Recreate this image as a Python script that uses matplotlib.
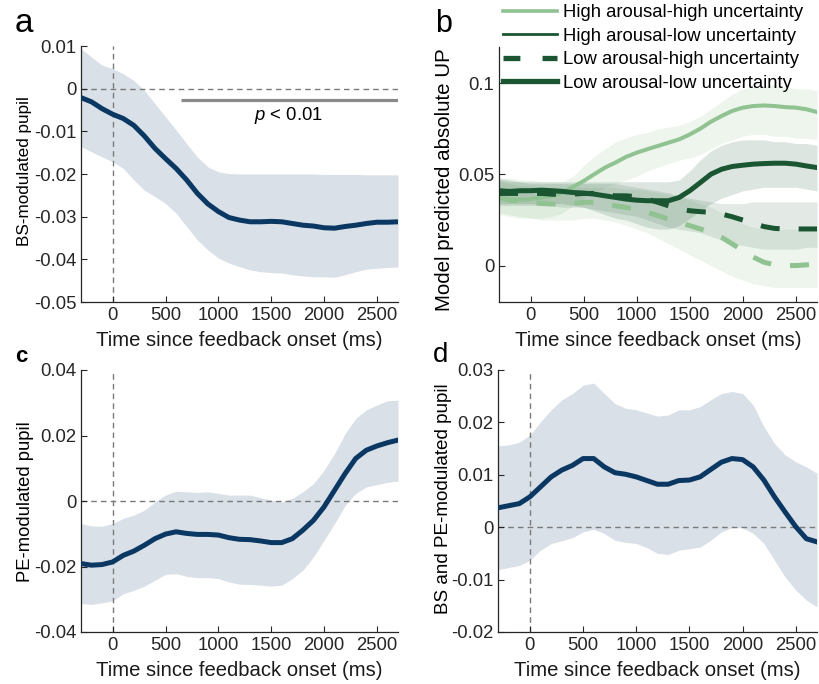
import numpy as np
import matplotlib
matplotlib.use("Agg")
import matplotlib.pyplot as plt
from matplotlib.lines import Line2D

plt.rcParams['font.family'] = ['Liberation Sans', 'DejaVu Sans']
plt.rcParams['mathtext.fontset'] = 'custom'
plt.rcParams['mathtext.it'] = 'Liberation Sans:italic'
plt.rcParams['mathtext.rm'] = 'Liberation Sans'

t = [-300, -200, -100, 0, 100, 200, 300, 400, 500, 600, 700, 800, 900, 1000, 1100, 1200,
     1300, 1400, 1500, 1600, 1700, 1800, 1900, 2000, 2100, 2200, 2300, 2400, 2500, 2600, 2700]

# panel a: BS-modulated pupil
bs_mean = [-0.0021, -0.0031, -0.0047, -0.0060, -0.0070, -0.0086, -0.0111, -0.0140, -0.0164, -0.0187,
           -0.0214, -0.0245, -0.0270, -0.0288, -0.0302, -0.0308, -0.0312, -0.0312, -0.0311, -0.0312,
           -0.0316, -0.0320, -0.0322, -0.0326, -0.0327, -0.0323, -0.0320, -0.0316, -0.0313, -0.0313, -0.0312]
bs_upper = [0.0094, 0.0074, 0.0055, 0.0047, 0.0035, 0.0019, -0.0004, -0.0035, -0.0066, -0.0097,
            -0.0129, -0.0160, -0.0183, -0.0195, -0.0199, -0.0200, -0.0200, -0.0200, -0.0200, -0.0200,
            -0.0200, -0.0200, -0.0200, -0.0201, -0.0201, -0.0201, -0.0201, -0.0202, -0.0202, -0.0202, -0.0202]
bs_lower = [-0.0136, -0.0148, -0.0160, -0.0171, -0.0187, -0.0214, -0.0238, -0.0253, -0.0269, -0.0292,
            -0.0323, -0.0354, -0.0378, -0.0397, -0.0409, -0.0417, -0.0425, -0.0429, -0.0431, -0.0432,
            -0.0436, -0.0439, -0.0441, -0.0441, -0.0442, -0.0436, -0.0429, -0.0423, -0.0421, -0.0419, -0.0418]
sig_start, sig_end, sig_y = 650, 2700, -0.0027

# panel b: model predicted absolute UP
hh_mean = [0.0374, 0.0365, 0.0361, 0.0365, 0.0374, 0.0383, 0.0401, 0.0432, 0.0465, 0.0502, 0.0538,
           0.0566, 0.0597, 0.0620, 0.0639, 0.0657, 0.0675, 0.0693, 0.0720, 0.0752, 0.0790, 0.0821,
           0.0849, 0.0867, 0.0876, 0.0879, 0.0876, 0.0870, 0.0867, 0.0858, 0.0843]
hh_upper = [0.048, 0.048, 0.047, 0.047, 0.046, 0.046, 0.046, 0.049, 0.055, 0.060, 0.064, 0.068, 0.070,
            0.072, 0.073, 0.075, 0.076, 0.077, 0.079, 0.082, 0.086, 0.090, 0.094, 0.097, 0.098, 0.099,
            0.099, 0.098, 0.097, 0.097, 0.096]
hh_lower = [0.028, 0.027, 0.026, 0.026, 0.026, 0.027, 0.029, 0.033, 0.037, 0.040, 0.043, 0.045, 0.047,
            0.049, 0.052, 0.054, 0.056, 0.058, 0.059, 0.061, 0.064, 0.067, 0.069, 0.071, 0.072, 0.072,
            0.071, 0.071, 0.070, 0.070, 0.069]
hl_mean = [0.0411, 0.0407, 0.0411, 0.0411, 0.0414, 0.0411, 0.0407, 0.0401, 0.0398, 0.0392, 0.0383,
           0.0374, 0.0365, 0.0359, 0.0356, 0.0356, 0.0356, 0.0374, 0.0411, 0.0456, 0.0502, 0.0529,
           0.0544, 0.0551, 0.0557, 0.0560, 0.0562, 0.0562, 0.0557, 0.0547, 0.0538]
hl_upper = [0.048, 0.047, 0.046, 0.046, 0.046, 0.046, 0.046, 0.046, 0.046, 0.046, 0.046, 0.046, 0.046,
            0.046, 0.046, 0.046, 0.046, 0.047, 0.052, 0.058, 0.063, 0.066, 0.068, 0.069, 0.069, 0.069,
            0.068, 0.068, 0.067, 0.067, 0.066]
hl_lower = [0.034, 0.034, 0.034, 0.034, 0.034, 0.034, 0.034, 0.033, 0.032, 0.030, 0.028, 0.026, 0.025,
            0.023, 0.021, 0.020, 0.020, 0.022, 0.026, 0.030, 0.034, 0.037, 0.039, 0.041, 0.042, 0.043,
            0.043, 0.043, 0.043, 0.042, 0.041]
lh_mean = [0.0374, 0.0359, 0.0356, 0.0347, 0.0341, 0.0338, 0.0338, 0.0341, 0.0347, 0.0347, 0.0338,
           0.0328, 0.0319, 0.0310, 0.0292, 0.0274, 0.0255, 0.0237, 0.0219, 0.0201, 0.0182, 0.0155,
           0.0119, 0.0082, 0.0046, 0.0018, 0.0005, 0.0000, 0.0000, 0.0004, 0.0009]
lh_upper = [0.046, 0.045, 0.044, 0.044, 0.043, 0.043, 0.043, 0.043, 0.043, 0.043, 0.043, 0.043, 0.042,
            0.042, 0.041, 0.040, 0.039, 0.038, 0.036, 0.034, 0.032, 0.029, 0.026, 0.023, 0.021, 0.020,
            0.020, 0.020, 0.020, 0.021, 0.022]
lh_lower = [0.029, 0.028, 0.027, 0.026, 0.025, 0.025, 0.025, 0.025, 0.026, 0.026, 0.025, 0.024, 0.022,
            0.020, 0.018, 0.015, 0.012, 0.009, 0.006, 0.003, 0.000, -0.003, -0.006, -0.008, -0.010,
            -0.011, -0.012, -0.012, -0.012, -0.012, -0.012]
ll_mean = [0.0396, 0.0396, 0.0396, 0.0396, 0.0396, 0.0392, 0.0389, 0.0392, 0.0396, 0.0396, 0.0389,
           0.0383, 0.0383, 0.0378, 0.0365, 0.0347, 0.0328, 0.0310, 0.0301, 0.0296, 0.0292, 0.0283,
           0.0268, 0.0250, 0.0232, 0.0214, 0.0204, 0.0201, 0.0201, 0.0201, 0.0201]
ll_upper = [0.047, 0.046, 0.046, 0.045, 0.045, 0.045, 0.045, 0.045, 0.045, 0.045, 0.045, 0.045, 0.044,
            0.043, 0.042, 0.041, 0.040, 0.038, 0.037, 0.036, 0.035, 0.034, 0.034, 0.034, 0.035, 0.035,
            0.035, 0.035, 0.035, 0.035, 0.035]
ll_lower = [0.033, 0.033, 0.033, 0.033, 0.033, 0.033, 0.032, 0.032, 0.032, 0.031, 0.030, 0.029, 0.028,
            0.027, 0.025, 0.023, 0.021, 0.020, 0.019, 0.018, 0.016, 0.014, 0.012, 0.011, 0.010, 0.009,
            0.009, 0.009, 0.009, 0.010, 0.010]
legend_labels = ['High arousal-high uncertainty', 'High arousal-low uncertainty',
                 'Low arousal-high uncertainty', 'Low arousal-low uncertainty']

# panel c: PE-modulated pupil
pe_mean = [-0.0191, -0.0196, -0.0194, -0.0186, -0.0166, -0.0153, -0.0135, -0.0115, -0.0101, -0.0094,
           -0.0099, -0.0102, -0.0102, -0.0104, -0.0112, -0.0117, -0.0118, -0.0122, -0.0127, -0.0127,
           -0.0115, -0.0089, -0.0059, -0.0018, 0.0033, 0.0084, 0.0130, 0.0155, 0.0168, 0.0178, 0.0186]
pe_upper = [-0.0069, -0.0076, -0.0077, -0.0069, -0.0053, -0.0043, -0.0028, -0.0003, 0.0018, 0.0030,
            0.0028, 0.0026, 0.0028, 0.0023, 0.0018, 0.0018, 0.0018, 0.0010, 0.0003, -0.0003, 0.0008,
            0.0028, 0.0053, 0.0094, 0.0145, 0.0206, 0.0252, 0.0278, 0.0293, 0.0306, 0.0308]
pe_lower = [-0.0313, -0.0316, -0.0311, -0.0305, -0.0283, -0.0273, -0.0260, -0.0242, -0.0224, -0.0222,
            -0.0230, -0.0234, -0.0234, -0.0237, -0.0247, -0.0254, -0.0255, -0.0257, -0.0260, -0.0257,
            -0.0237, -0.0211, -0.0171, -0.0120, -0.0069, -0.0013, 0.0023, 0.0043, 0.0050, 0.0057, 0.0061]

# panel d: BS and PE-modulated pupil
bspe_mean = [0.0037, 0.0041, 0.0045, 0.0058, 0.0077, 0.0096, 0.0109, 0.0118, 0.0131, 0.0131, 0.0115,
             0.0104, 0.0101, 0.0096, 0.0089, 0.0082, 0.0082, 0.0089, 0.0090, 0.0096, 0.0110, 0.0124,
             0.0131, 0.0129, 0.0115, 0.0090, 0.0058, 0.0029, 0.0001, -0.0022, -0.0028]
bspe_upper = [0.0155, 0.0157, 0.0162, 0.0176, 0.0201, 0.0224, 0.0243, 0.0255, 0.0271, 0.0275, 0.0255,
              0.0236, 0.0227, 0.0224, 0.0218, 0.0212, 0.0214, 0.0224, 0.0224, 0.0230, 0.0243, 0.0255,
              0.0259, 0.0255, 0.0233, 0.0192, 0.0160, 0.0138, 0.0125, 0.0115, 0.0103]
bspe_lower = [-0.0081, -0.0077, -0.0073, -0.0063, -0.0044, -0.0031, -0.0026, -0.0020, -0.0009, -0.0004,
              -0.0012, -0.0025, -0.0029, -0.0031, -0.0039, -0.0050, -0.0052, -0.0044, -0.0041, -0.0038,
              -0.0025, -0.0009, -0.0001, -0.0001, -0.0012, -0.0031, -0.0063, -0.0095, -0.0120, -0.0139, -0.0152]

navy = '#0b3862'
band = '#d9e0e7'
light_g = '#90c391'
dark_g = '#1a5631'
ref_grey = '#7a7a7a'

fig = plt.figure(figsize=(8.19, 6.84), dpi=100)
W, H = 819, 684


def make_ax(l, r, top, bottom):
    return fig.add_axes([l / W, 1 - bottom / H, (r - l) / W, (bottom - top) / H])


def style(ax, ylim, yticks, yticklabels):
    ax.set_xlim(-300, 2700)
    ax.set_ylim(*ylim)
    ax.set_xticks([0, 500, 1000, 1500, 2000, 2500])
    ax.set_yticks(yticks)
    ax.set_yticklabels(yticklabels)
    for s in ['top', 'right']:
        ax.spines[s].set_visible(False)
    for s in ['left', 'bottom']:
        ax.spines[s].set_color('#262626')
        ax.spines[s].set_linewidth(0.9)
    ax.tick_params(direction='in', length=4, width=0.8, colors='#262626', labelsize=13.3)
    ax.set_xlabel('Time since feedback onset (ms)', fontsize=14.6, color='#1a1a1a')
    ax.xaxis.set_label_coords(0.5, -0.112)


def refs(ax, hline=True, vline=True):
    if hline:
        ax.axhline(0, color=ref_grey, lw=1, ls=(0, (4, 3)), zorder=1)
    if vline:
        ax.axvline(0, color=ref_grey, lw=1, ls=(0, (4, 3)), zorder=1)


# a
axa = make_ax(81, 398, 46, 302)
axa.fill_between(t, bs_lower, bs_upper, color=band, lw=0, zorder=0)
refs(axa)
axa.plot(t, bs_mean, color=navy, lw=3.6, solid_capstyle='butt', zorder=3)
axa.plot([sig_start, sig_end], [sig_y, sig_y], color='#8a8a8a', lw=2.3, solid_capstyle='butt')
axa.text(1660, -0.0063, r'$\it{p}$ < 0.01', fontsize=13.3, ha='center', va='center')
style(axa, (-0.05, 0.01), [-0.05, -0.04, -0.03, -0.02, -0.01, 0, 0.01],
      ['-0.05', '-0.04', '-0.03', '-0.02', '-0.01', '0', '0.01'])
axa.set_ylabel('BS-modulated pupil', fontsize=12.3)
axa.yaxis.set_label_coords(-0.155, 0.51)

# b
axb = make_ax(499, 817, 47, 302)
axb.fill_between(t, hh_lower, hh_upper, color=light_g, alpha=0.16, lw=0)
axb.fill_between(t, lh_lower, lh_upper, color=light_g, alpha=0.16, lw=0)
axb.fill_between(t, ll_lower, ll_upper, color=dark_g, alpha=0.12, lw=0)
axb.fill_between(t, hl_lower, hl_upper, color=dark_g, alpha=0.15, lw=0)
axb.plot(t, hh_mean, color=light_g, lw=2.9)
axb.plot(t, lh_mean, color=light_g, lw=3.6, ls=(0, (3.8, 3.8)))
axb.plot(t, ll_mean, color=dark_g, lw=3.6, ls=(0, (3.8, 3.8)))
axb.plot(t, hl_mean, color=dark_g, lw=3.6)
style(axb, (-0.02, 0.12), [0, 0.05, 0.1], ['0', '0.05', '0.1'])
axb.set_ylabel('Model predicted absolute UP', fontsize=14.8)
axb.yaxis.set_label_coords(-0.142, 0.48)
handles = [Line2D([], [], color=light_g, lw=2.6),
           Line2D([], [], color=dark_g, lw=2.0),
           Line2D([], [], color=dark_g, lw=3.8, ls=(0, (3.2, 4.2))),
           Line2D([], [], color=dark_g, lw=3.8)]
fig.legend(handles, legend_labels, loc='upper left', bbox_to_anchor=(503 / W, 1 - 4 / H),
           frameon=False, fontsize=13.3, handlelength=2.9, handletextpad=0.35,
           labelspacing=0.36, borderpad=0, borderaxespad=0)

# c
axc = make_ax(81, 398, 370, 632)
axc.fill_between(t, pe_lower, pe_upper, color=band, lw=0, zorder=0)
refs(axc)
axc.plot(t, pe_mean, color=navy, lw=3.6, zorder=3)
style(axc, (-0.04, 0.04), [-0.04, -0.02, 0, 0.02, 0.04], ['-0.04', '-0.02', '0', '0.02', '0.04'])
axc.set_ylabel('PE-modulated pupil', fontsize=13.2)
axc.yaxis.set_label_coords(-0.148, 0.497)

# d
axd = make_ax(498, 817, 370, 632)
axd.fill_between(t, bspe_lower, bspe_upper, color=band, lw=0, zorder=0)
refs(axd)
axd.plot(t, bspe_mean, color=navy, lw=3.6, zorder=3)
style(axd, (-0.02, 0.03), [-0.02, -0.01, 0, 0.01, 0.02, 0.03],
      ['-0.02', '-0.01', '0', '0.01', '0.02', '0.03'])
axd.set_ylabel('BS and PE-modulated pupil', fontsize=13.6)
axd.yaxis.set_label_coords(-0.144, 0.508)

# panel letters
fig.text(15 / W, 1 - 32 / H, 'a', fontsize=24, va='baseline')
fig.text(435 / W, 1 - 32 / H, 'b', fontsize=22, va='baseline')
fig.text(15 / W, 1 - 362 / H, 'c', fontsize=16, fontweight='bold', va='baseline')
fig.text(433 / W, 1 - 362 / H, 'd', fontsize=20, va='baseline')

fig.savefig('out.png', dpi=100)
